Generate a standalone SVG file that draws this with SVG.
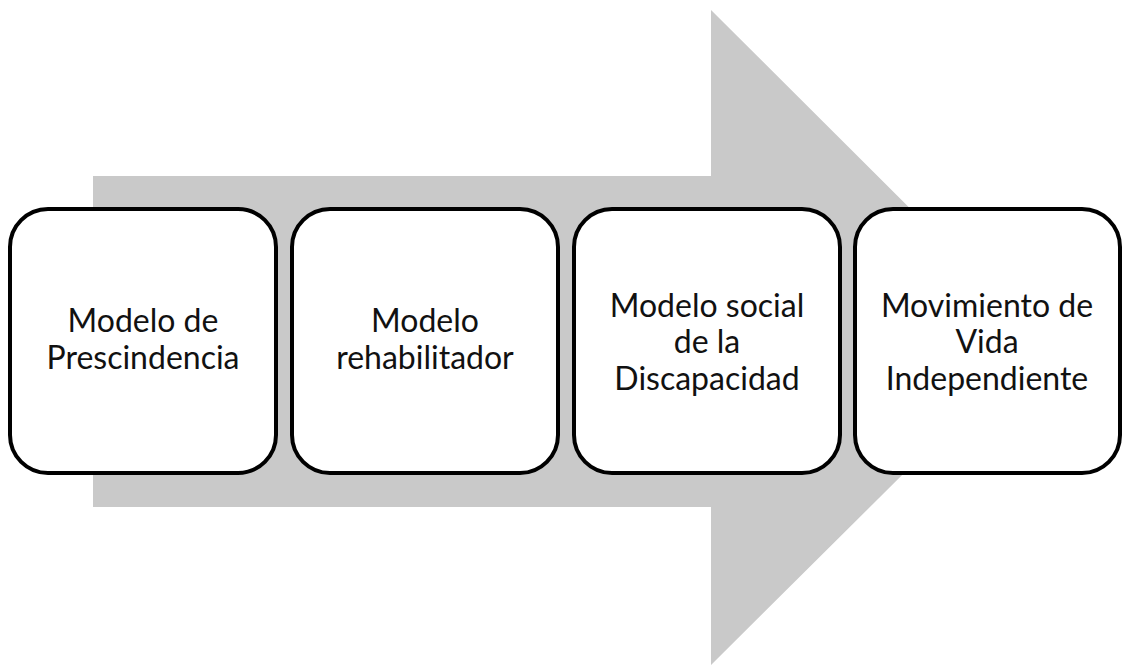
<svg xmlns="http://www.w3.org/2000/svg" width="1123" height="666" viewBox="0 0 1123 666">
<style>
.box{fill:#fff;stroke:#000;stroke-width:4}
.t{font-family:Lato,"Open Sans",sans-serif;font-size:32px;fill:#111;text-anchor:middle}
</style>
<rect width="1123" height="666" fill="#fff"/>
<g id="arrow">
<polygon points="93,176 711,176 711,10 1040,338 711,665 711,507 93,507" fill="#c9c9c9"/>
</g>
<g id="connectors"></g>
<g id="n1"><rect class="box" x="10" y="209" width="266" height="264" rx="38"/>
<text class="t" x="143" y="332">Modelo de</text><text class="t" x="143" y="369">Prescindencia</text></g>
<g id="n2"><rect class="box" x="292" y="209" width="266" height="264" rx="38"/>
<text class="t" x="425" y="332">Modelo</text><text class="t" x="425" y="369">rehabilitador</text></g>
<g id="n3"><rect class="box" x="574" y="209" width="266" height="264" rx="38"/>
<text class="t" x="707" y="317">Modelo social</text><text class="t" x="707" y="353">de la</text><text class="t" x="707" y="390">Discapacidad</text></g>
<g id="n4"><rect class="box" x="855" y="209" width="265" height="264" rx="38"/>
<text class="t" x="987" y="317">Movimiento de</text><text class="t" x="987" y="353">Vida</text><text class="t" x="987" y="390">Independiente</text></g>
</svg>
